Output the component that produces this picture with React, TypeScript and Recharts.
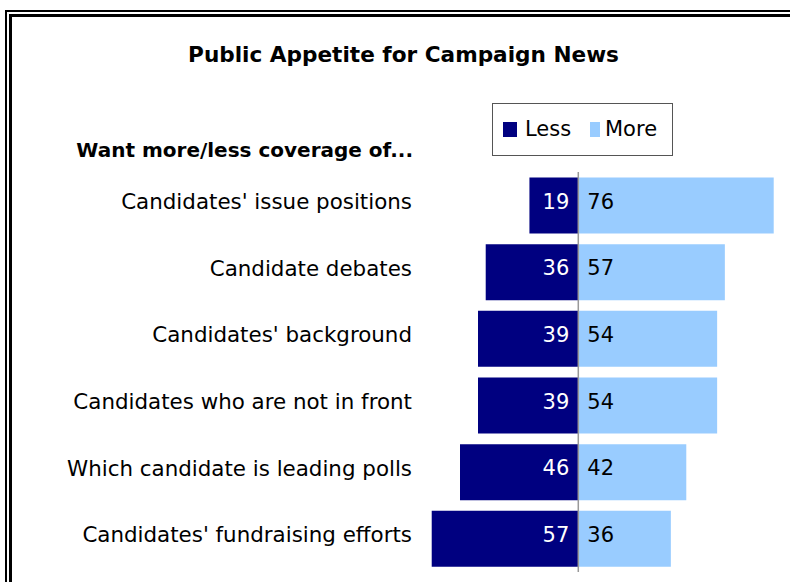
import React from "react";
import { BarChart, Bar, XAxis, YAxis, ReferenceLine, LabelList } from "recharts";

const categories = [
  "Candidates' issue positions",
  "Candidate debates",
  "Candidates' background",
  "Candidates who are not in front",
  "Which candidate is leading polls",
  "Candidates' fundraising efforts",
];
const lessValues = [19, 36, 39, 39, 46, 57];
const moreValues = [76, 57, 54, 54, 42, 36];
const seriesNames = ["Less", "More"];
const seriesColors = ["#000080", "#99CCFF"];
const title = "Public Appetite for Campaign News";
const subtitle = "Want more/less coverage of...";

const data = categories.map((name, i) => ({
  name,
  less: -lessValues[i],
  more: moreValues[i],
}));

const FONT = "'DejaVu Sans', Verdana, sans-serif";

const CategoryTick = (props: any) => {
  const { x, y, payload } = props;
  return (
    <text x={x} y={y - 4} textAnchor="end" dominantBaseline="central" fontFamily={FONT} fontSize={21.4} fill="#000">
      {payload.value}
    </text>
  );
};

const LessLabel = (props: any) => {
  const { x, y, width, height, value } = props;
  const right = Math.max(x, x + width);
  return (
    <text x={right - 9} y={y + height / 2 - 4} textAnchor="end" dominantBaseline="central" fontFamily={FONT} fontSize={21} fill="#fff">
      {Math.abs(value)}
    </text>
  );
};

const MoreLabel = (props: any) => {
  const { x, y, width, height, value } = props;
  const left = Math.min(x, x + width);
  return (
    <text x={left + 9} y={y + height / 2 - 4} textAnchor="start" dominantBaseline="central" fontFamily={FONT} fontSize={21} fill="#000">
      {Math.abs(value)}
    </text>
  );
};

const legendSwatch = [
  { left: 10, width: 14 },
  { left: 97, width: 10 },
];
const legendText = [32, 112];

export default function App() {
  return (
    <div style={{ position: "relative", width: 790, height: 582, overflow: "hidden", background: "#fff" }}>
      <style>{`body{margin:0}`}</style>
      <div style={{ position: "absolute", left: 5, top: 10, width: 1000, height: 1000, borderLeft: "2px solid #000", borderTop: "2px solid #000" }} />
      <div style={{ position: "absolute", left: 9, top: 14, width: 1000, height: 1000, borderLeft: "3px solid #000", borderTop: "3px solid #000" }} />
      <div style={{ position: "absolute", left: 0, width: 807, top: 40, textAlign: "center", fontFamily: FONT, fontWeight: "bold", fontSize: 21.6, lineHeight: "30px", color: "#000", whiteSpace: "nowrap" }}>
        {title}
      </div>
      <div style={{ position: "absolute", right: 790 - 413, top: 135, fontFamily: FONT, fontWeight: "bold", fontSize: 20, lineHeight: "30px", color: "#000", whiteSpace: "nowrap" }}>
        {subtitle}
      </div>
      <div style={{ position: "absolute", left: 492, top: 103, width: 179, height: 51, border: "1px solid #555", fontFamily: FONT, fontSize: 21, color: "#000" }}>
        {seriesNames.map((n, i) => (
          <React.Fragment key={n}>
            <span style={{ position: "absolute", left: legendSwatch[i].left, top: 18, width: legendSwatch[i].width, height: 15, background: seriesColors[i] }} />
            <span style={{ position: "absolute", left: legendText[i], top: 10, lineHeight: "30px", whiteSpace: "nowrap" }}>{n}</span>
          </React.Fragment>
        ))}
      </div>
      <div style={{ position: "absolute", left: 0, top: 0 }}>
        <BarChart
          width={790}
          height={582}
          data={data}
          layout="vertical"
          stackOffset="sign"
          barCategoryGap={5.5}
          margin={{ top: 172, right: 6, bottom: 10, left: 0 }}
        >
          <XAxis type="number" domain={[-60, 80]} hide />
          <YAxis
            type="category"
            dataKey="name"
            width={424}
            axisLine={false}
            tickLine={false}
            tickSize={0}
            tickMargin={12}
            tick={<CategoryTick />}
          />
          <Bar dataKey="less" stackId="a" fill={seriesColors[0]} isAnimationActive={false}>
            <LabelList dataKey="less" content={<LessLabel />} />
          </Bar>
          <Bar dataKey="more" stackId="a" fill={seriesColors[1]} isAnimationActive={false}>
            <LabelList dataKey="more" content={<MoreLabel />} />
          </Bar>
          <ReferenceLine x={0} stroke="#999" strokeWidth={1.5} />
        </BarChart>
      </div>
    </div>
  );
}
